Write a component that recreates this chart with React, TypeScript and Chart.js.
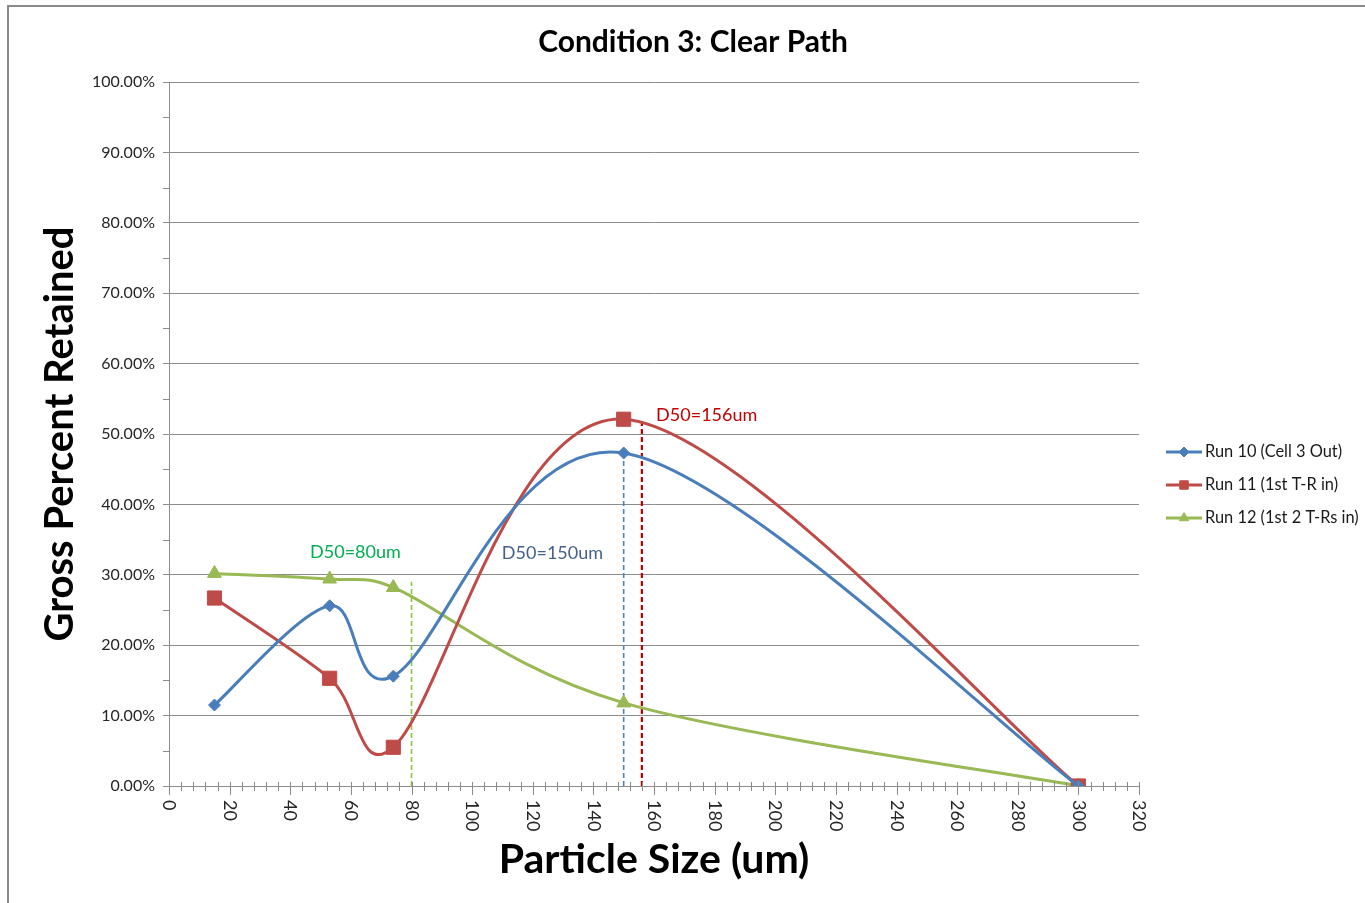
import React, { useEffect, useRef } from 'react';
import { Chart, registerables } from 'chart.js';
import { drawPoint } from 'chart.js/helpers';

Chart.register(...registerables);

// ---------- data ----------
const particleSizes = [15, 53, 74, 150, 300];
const run10 = [11.5, 25.6, 15.6, 47.3, 0];
const run11 = [26.7, 15.3, 5.5, 52.1, 0];
const run12 = [30.2, 29.4, 28.2, 11.8, 0];
const seriesNames = ['Run 10 (Cell 3 Out)', 'Run 11 (1st T-R in)', 'Run 12 (1st 2 T-Rs in)'];

const d50Sizes = [80, 150, 156];
const d50Heights = [29, 47.3, 51.8];
const d50Labels = ['D50=80um', 'D50=150um', 'D50=156um'];

const xTickValues = [0, 20, 40, 60, 80, 100, 120, 140, 160, 180, 200, 220, 240, 260, 280, 300, 320];
const yTickValues = [0, 10, 20, 30, 40, 50, 60, 70, 80, 90, 100];

const chartTitle = 'Condition 3: Clear Path';
const xTitle = 'Particle Size (um)';
const yTitle = 'Gross Percent Retained';

// ---------- styles ----------
const FONT = 'Lato, "Open Sans", sans-serif';
const seriesColors = ['#4A7EBB', '#BE4B48', '#98B954'];
const pointStyles = ['rectRot', 'rect', 'triangle'];
const pointRadii = [6, 10, 8];
const d50LineColors = ['#8CC63F', '#4F81BD', '#C00000'];
const d50LineWidths = [1.6, 1.6, 2.2];
const d50TextColors = ['#00B050', '#46618C', '#C00000'];
// annotation anchors in data units: [x, y, align]
const d50LabelAnchors: [number, number, CanvasTextAlign][] = [
  [61.5, 33.2, 'center'],
  [126.5, 33.0, 'center'],
  [160.7, 52.7, 'left'],
];

// Excel-like smoothing: Catmull-Rom control points (1/6 of neighbour chord),
// capped at half of the adjacent segment length.
const excelSmooth = {
  id: 'excelSmooth',
  beforeDatasetDraw(chart: any, args: any) {
    const meta = args.meta;
    const line = meta.dataset;
    if (!line || !line.options || !line.options.tension) return;
    const pts = meta.data;
    const n = pts.length;
    for (let i = 0; i < n; i++) {
      const p = pts[i];
      const prev = pts[Math.max(0, i - 1)];
      const next = pts[Math.min(n - 1, i + 1)];
      const tx = next.x - prev.x;
      const ty = next.y - prev.y;
      const tl = Math.hypot(tx, ty) || 1;
      const dPrev = Math.hypot(p.x - prev.x, p.y - prev.y);
      const dNext = Math.hypot(next.x - p.x, next.y - p.y);
      let fPrev = 1 / 6;
      let fNext = 1 / 6;
      if (tl / 6 > dPrev / 2) fPrev = dPrev / (2 * tl);
      if (tl / 6 > dNext / 2) fNext = dNext / (2 * tl);
      p.cp1x = p.x - tx * fPrev;
      p.cp1y = p.y - ty * fPrev;
      p.cp2x = p.x + tx * fNext;
      p.cp2y = p.y + ty * fNext;
    }
    line._pointsUpdated = true;
    line._path = undefined;
  },
};

const decorPlugin = {
  id: 'decor',
  afterDraw(chart: any) {
    const { ctx, chartArea, scales } = chart;
    const xs = scales.x;
    const ys = scales.y;
    ctx.save();

    // x axis tick marks
    ctx.strokeStyle = '#8C8C8C';
    ctx.lineWidth = 1;
    for (let v = 0; v <= 320; v += 4) {
      const px = Math.round(xs.getPixelForValue(v)) + 0.5;
      const major = v % 20 === 0;
      ctx.beginPath();
      ctx.moveTo(px, chartArea.bottom - 4);
      ctx.lineTo(px, chartArea.bottom + (major ? 9 : 5));
      ctx.stroke();
    }
    // y axis minor tick marks
    for (let v = 5; v < 100; v += 10) {
      const py = Math.round(ys.getPixelForValue(v)) + 0.5;
      ctx.beginPath();
      ctx.moveTo(chartArea.left - 6, py);
      ctx.lineTo(chartArea.left, py);
      ctx.stroke();
    }

    // x tick labels, rotated clockwise
    ctx.fillStyle = '#262626';
    ctx.font = `18px ${FONT}`;
    ctx.textAlign = 'left';
    ctx.textBaseline = 'middle';
    xTickValues.forEach((v) => {
      const px = xs.getPixelForValue(v);
      ctx.save();
      ctx.translate(px, chartArea.bottom + 14);
      ctx.rotate(Math.PI / 2);
      ctx.fillText(String(v), 0, 0);
      ctx.restore();
    });

    // titles
    ctx.fillStyle = '#000';
    ctx.textAlign = 'center';
    ctx.textBaseline = 'middle';
    ctx.font = `bold 30px ${FONT}`;
    ctx.fillText(chartTitle, 684, 35);
    ctx.font = `bold 41px ${FONT}`;
    ctx.fillText(xTitle, (chartArea.left + chartArea.right) / 2, 853);
    ctx.save();
    ctx.translate(51, (chartArea.top + chartArea.bottom) / 2);
    ctx.rotate(-Math.PI / 2);
    ctx.font = `bold 40px ${FONT}`;
    ctx.fillText(yTitle, 0, 0);
    ctx.restore();

    // annotations
    ctx.font = `18px ${FONT}`;
    d50Labels.forEach((t, i) => {
      const [ax, ay, al] = d50LabelAnchors[i];
      ctx.fillStyle = d50TextColors[i];
      ctx.textAlign = al;
      ctx.fillText(t, xs.getPixelForValue(ax), ys.getPixelForValue(ay));
    });

    // legend
    const lx = 1157;
    const rows = [445, 478, 511];
    ctx.font = `16.4px ${FONT}`;
    seriesNames.forEach((name, i) => {
      const y = rows[i];
      ctx.strokeStyle = seriesColors[i];
      ctx.lineWidth = 3;
      ctx.beginPath();
      ctx.moveTo(lx, y);
      ctx.lineTo(lx + 36, y);
      ctx.stroke();
      ctx.fillStyle = seriesColors[i];
      ctx.strokeStyle = seriesColors[i];
      ctx.lineWidth = 1;
      drawPoint(ctx, { pointStyle: pointStyles[i] as any, radius: [5, 6, 5.5][i], rotation: 0, borderWidth: 1 } as any, lx + 18, y);
      ctx.fillStyle = '#1a1a1a';
      ctx.textAlign = 'left';
      ctx.textBaseline = 'middle';
      ctx.fillText(name, lx + 39, y);
    });

    ctx.restore();
  },
};

export default function App() {
  const ref = useRef<HTMLCanvasElement>(null);

  useEffect(() => {
    if (!ref.current) return;
    const seriesData = [run10, run11, run12];
    const curves = seriesData.map((vals, i) => ({
      label: seriesNames[i],
      data: particleSizes.map((x, j) => ({ x, y: vals[j] })),
      borderColor: seriesColors[i],
      backgroundColor: seriesColors[i],
      borderWidth: 3,
      pointStyle: pointStyles[i],
      pointRadius: pointRadii[i],
      pointBorderWidth: 1,
      tension: 0.35,
      fill: false,
      order: 1,
    }));
    const d50Lines = d50Sizes.map((x, i) => ({
      label: d50Labels[i],
      data: [
        { x, y: 0 },
        { x, y: d50Heights[i] },
      ],
      borderColor: d50LineColors[i],
      borderWidth: d50LineWidths[i],
      borderDash: [5, 3],
      pointRadius: 0,
      tension: 0,
      fill: false,
      order: 2,
    }));

    const chart = new Chart(ref.current, {
      type: 'line',
      data: { datasets: [...curves, ...d50Lines] as any },
      options: {
        animation: false,
        responsive: false,
        layout: { padding: { left: 0, right: 226, top: 75, bottom: 0 } },
        plugins: { legend: { display: false }, title: { display: false }, tooltip: { enabled: false } },
        scales: {
          x: {
            type: 'linear',
            min: 0,
            max: 320,
            ticks: { display: false, stepSize: 20 },
            grid: { display: false },
            border: { display: true, color: '#8C8C8C', width: 1 },
            afterFit: (s: any) => {
              s.height = 117;
            },
          },
          y: {
            type: 'linear',
            min: 0,
            max: 100,
            ticks: {
              stepSize: 10,
              color: '#262626',
              font: { family: FONT, size: 16 },
              padding: 8,
              callback: (v: any) => Number(v).toFixed(2) + '%',
            },
            grid: { display: true, color: '#8C8C8C', lineWidth: 1, tickLength: 6 },
            border: { display: true, color: '#8C8C8C', width: 1 },
            afterFit: (s: any) => {
              s.width = 160;
            },
            afterBuildTicks: (s: any) => {
              s.ticks = yTickValues.map((v) => ({ value: v }));
            },
          },
        },
      },
      plugins: [excelSmooth, decorPlugin],
    });
    return () => chart.destroy();
  }, []);

  return (
    <div
      style={{
        position: 'absolute',
        left: 7,
        top: 5,
        borderTop: '2px solid #8A8A8A',
        borderLeft: '2px solid #8A8A8A',
        width: 1356,
        height: 896,
        background: '#fff',
      }}
    >
      <canvas ref={ref} width={1356} height={896} style={{ display: 'block', width: 1356, height: 896 }} />
    </div>
  );
}
